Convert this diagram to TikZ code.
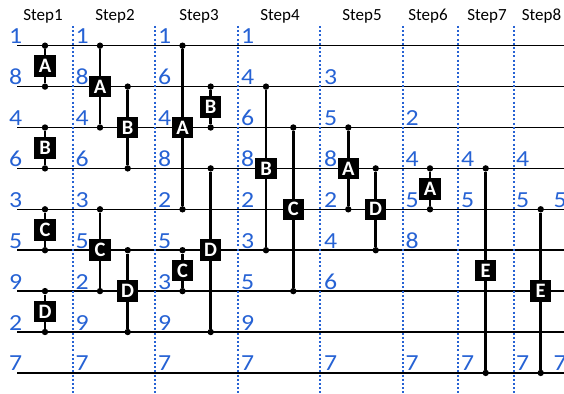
\documentclass[tikz,border=0pt]{standalone}
\usepackage{fontspec}
\setmainfont{Carlito}
\usetikzlibrary{calc}
\definecolor{numblue}{RGB}{38,98,212}
\begin{document}
\begin{tikzpicture}[x=1pt,y=-1pt,
  wire/.style={line width=1.6pt},
  sepline/.style={numblue,line width=2pt,dash pattern=on 2pt off 2.2pt},
  conn/.style={line width=2.6pt},
  pin/.style={circle,fill=black,inner sep=0pt,minimum size=6.4pt},
  gate/.style={fill=black,text=white,font=\fontsize{20.5}{20.5}\selectfont\bfseries,minimum width=21.5pt,minimum height=21.5pt,inner sep=0pt},
  num/.style={numblue,font=\fontsize{23}{23}\selectfont,anchor=base west,inner sep=0pt,xscale=1.12,transform shape},
  steplbl/.style={font=\fontsize{17}{17}\selectfont,anchor=base,inner sep=0pt}]
\useasboundingbox (0,0) rectangle (564,393);
% wires
\foreach \i in {1,...,9} {
  \coordinate (w\i s) at (17,{45.7+40.9*(\i-1)});
  \coordinate (w\i e) at (564,{45.7+40.9*(\i-1)});
  \draw[wire] (w\i s) -- (w\i e);
}
% separators
\foreach \x [count=\k] in {73,155.3,238.3,320,403,458.3,514} {
  \coordinate (d\k t) at (\x,26);
  \coordinate (d\k b) at (\x,393);
  \draw[sepline] (d\k t) -- (d\k b);
}
% step labels
\foreach \x [count=\k] in {43,115,199,280,362,428,487,541.5} {
  \node[steplbl] (step\k) at (\x,20.5) {Step\k};
}
% numbers
\foreach \x/\vals [count=\c] in {
  9/{1,8,4,6,3,5,9,2,7},
  75.5/{1,8,4,6,3,5,2,9,7},
  158/{1,6,4,8,2,5,3,9,7},
  241/{1,4,6,8,2,3,5,9,7},
  324/{,3,5,8,2,4,6,,7},
  405.5/{,,2,4,5,8,,,7},
  461/{,,,4,5,,,,7},
  516/{,,,4,5,,,,7},
  553.5/{,,,,5,,,,7}} {
  \foreach \v [count=\r] in \vals {
    \node[num] (n\c-\r) at (\x,{45.7+40.9*(\r-1)-2}) {\v};
  }
}
% gates
\foreach \x/\t/\b/\l/\n in {
  45/1/2/A/sa1, 45/3/4/B/sb1, 45/5/6/C/sc1, 45/7/8/D/sd1,
  100/1/3/A/sa2, 127.7/2/4/B/sb2, 100/5/7/C/sc2, 127.7/6/8/D/sd2,
  182.5/1/5/A/sa3, 210.7/2/3/B/sb3, 182.5/6/7/C/sc3, 210.7/4/8/D/sd3,
  266/2/6/B/sb4, 293.3/3/7/C/sc4,
  348.3/3/5/A/sa5, 375.7/4/6/D/sd5,
  430/4/5/A/sa6,
  485.7/4/9/E/se7,
  540.7/5/9/E/se8} {
  \node[pin] (\n t) at (\x,{45.7+40.9*(\t-1)}) {};
  \node[pin] (\n b) at (\x,{45.7+40.9*(\b-1)}) {};
  \draw[conn] (\n t) -- (\n b);
  \node[gate] (\n) at ($(\n t)!0.5!(\n b)$) {\l};
}
\end{tikzpicture}
\end{document}
